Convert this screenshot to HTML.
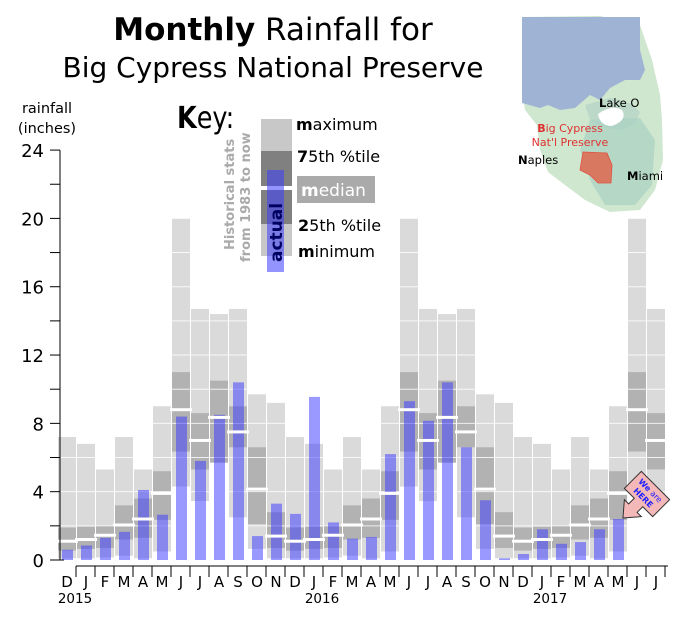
<!DOCTYPE html>
<html><head><meta charset="utf-8">
<style>
html,body{margin:0;padding:0;background:#fff;}
body{width:700px;height:626px;overflow:hidden;font-family:"DejaVu Sans","Liberation Sans",sans-serif;}
svg text{font-family:"DejaVu Sans","Liberation Sans",sans-serif;}
</style></head>
<body>
<svg id="chart" width="700" height="626" xmlns="http://www.w3.org/2000/svg">
  <g>
    <text x="273" y="40" font-size="31" text-anchor="middle" fill="#000"><tspan font-weight="bold">Monthly</tspan> Rainfall for</text>
    <text x="273" y="77" font-size="28" text-anchor="middle" fill="#000">Big Cypress National Preserve</text>
  </g>
  <g>
    <text x="47" y="113" font-size="14.5" text-anchor="middle">rainfall</text>
    <text x="47" y="133" font-size="14.5" text-anchor="middle">(inches)</text>
  </g>
  <g id="plot"></g>
  <g id="axes"></g>

  <!-- Key -->
  <g>
    <text x="177" y="128" font-size="30" font-weight="bold" transform="scale(0.85,1)" transform-origin="177 128">K<tspan font-weight="normal">ey:</tspan></text>
    <rect x="261" y="119" width="31" height="32" fill="#c8c8c8"/>
    <rect x="261" y="151" width="31" height="35" fill="#808080"/>
    <rect x="261" y="186" width="31" height="4" fill="#fff"/>
    <rect x="261" y="190" width="31" height="34" fill="#808080"/>
    <rect x="261" y="224" width="31" height="32" fill="#c8c8c8"/>
    <rect x="267" y="170" width="17" height="102" fill="rgb(60,60,255)" fill-opacity="0.55"/>
    <text transform="translate(282,262) rotate(-90)" font-size="17" font-weight="bold" fill="#000060">actual</text>
    <text transform="translate(234,250) rotate(-90)" font-size="13" font-weight="bold" fill="#aaa">Historical stats</text>
    <text transform="translate(250,262) rotate(-90)" font-size="13" font-weight="bold" fill="#aaa">from 1983 to now</text>
    <text x="296" y="130" font-size="16"><tspan font-weight="bold">m</tspan>aximum</text>
    <text x="297" y="162" font-size="16"><tspan font-weight="bold">7</tspan>5th %tile</text>
    <rect x="297" y="176" width="78" height="27" fill="#aaa"/>
    <text x="301" y="196" font-size="17" fill="#fff"><tspan font-weight="bold">m</tspan>edian</text>
    <text x="298" y="231" font-size="16"><tspan font-weight="bold">2</tspan>5th %tile</text>
    <text x="298" y="257" font-size="16"><tspan font-weight="bold">m</tspan>inimum</text>
  </g>

  <!-- Map -->
  <g>
    <path d="M522,17 L600,16 L640,25 L652,60 L660,95 L662,120 L663,160 L655,190 L640,210 L610,212 L585,200 L565,185 L548,172 L540,150 L537,125 L525,110 L522,90 Z" fill="#cfe6cf"/>
    <path d="M522,17 L640,17 L640,50 L645,70 L640,80 L625,80 L610,88 L600,100 L590,95 L575,108 L560,110 L548,105 L540,108 L522,103 Z" fill="#9fb4d4"/>
    <path d="M585,105 L610,98 L630,103 L640,112 L635,124 L620,130 L600,127 L590,120 Z" fill="#bcd8c8"/>
    <path d="M590,120 L640,118 L655,140 L652,185 L635,205 L605,205 L590,180 L580,150 Z" fill="#a9d2c2" fill-opacity="0.7"/>
    <path d="M598,114 Q612,104 622,110 Q628,120 612,126 Q600,126 598,114 Z" fill="#fff"/>
    <path d="M583,152 L607,153 L612,165 L611,183 L598,183 L590,175 L580,170 Z" fill="#d97860" stroke="#e05040" stroke-width="0.8"/>
    <text x="599" y="107" font-size="11.5"><tspan font-weight="bold">L</tspan>ake O</text>
    <text x="570" y="132" font-size="11" fill="#e03030" text-anchor="middle"><tspan font-weight="bold">B</tspan>ig Cypress</text>
    <text x="570" y="146" font-size="11" fill="#e03030" text-anchor="middle">Nat'l Preserve</text>
    <text x="518" y="164" font-size="11.5"><tspan font-weight="bold">N</tspan>aples</text>
    <text x="627" y="180" font-size="11.5"><tspan font-weight="bold">M</tspan>iami</text>
  </g>

  <!-- We are HERE sign -->
  <g transform="translate(647,494) rotate(45)">
    <polygon points="-20,-12 20,-12 20,12 6,12 6,20 12,20 0,34 -12,20 -6,20 -6,12 -20,12" fill="#f5b8b8" stroke="#333" stroke-width="1"/>
    <text x="0" y="-2" font-size="8" fill="#2020ff" text-anchor="middle" font-weight="bold">We <tspan font-weight="normal">are</tspan></text>
    <text x="0" y="8" font-size="8" fill="#2020ff" text-anchor="middle" font-weight="bold">HERE</text>
  </g>
</svg>
<script>
// Historical stats by calendar month (Jan..Dec), inches
const statMonths = ['Jan','Feb','Mar','Apr','May','Jun','Jul','Aug','Sep','Oct','Nov','Dec'];
const statMax = [6.8, 5.3, 7.2, 5.3, 9.0, 20.0, 14.7, 14.4, 14.7, 9.7, 9.2, 7.2];
const statP75 = [1.95, 2.0, 3.2, 3.6, 5.2, 11.0, 8.6, 10.5, 9.0, 6.6, 2.8, 1.9];
const statMedian = [1.2, 1.45, 2.05, 2.4, 3.9, 8.8, 7.0, 8.35, 7.5, 4.15, 1.4, 1.1];
const statP25 = [0.65, 0.7, 1.2, 1.3, 2.35, 6.35, 5.3, 5.7, 6.6, 2.1, 0.7, 0.55];
const statMin = [0.1, 0.15, 0.25, 0.1, 0.5, 4.3, 3.45, 5.7, 2.5, 0.65, 0.1, 0.1];
// Timeline: Dec 2015 .. Jul 2017
const monthLabels = ['D','J','F','M','A','M','J','J','A','S','O','N','D','J','F','M','A','M','J','J','A','S','O','N','D','J','F','M','A','M','J','J'];
const monthIndex = [11,0,1,2,3,4,5,6,7,8,9,10,11,0,1,2,3,4,5,6,7,8,9,10,11,0,1,2,3,4,5,6];
const actual = [0.6, 0.85, 1.3, 1.65, 4.1, 2.65, 8.4, 5.8, 8.5, 10.4, 1.4, 3.3, 2.7, 9.55, 2.2, 1.25, 1.35, 6.2, 9.3, 8.15, 10.4, 6.6, 3.5, 0.1, 0.35, 1.8, 0.95, 1.05, 1.8, 2.4];
const yTicks = [0,4,8,12,16,20,24];
const yearLabels = ['2015','2016','2017'];
const yearAt = [0,13,25];

const NS='http://www.w3.org/2000/svg';
const y0=560, pxPerIn=17.08, colW=19, x0=58;
function yS(v){return y0 - v*pxPerIn;}
function xS(i){return x0 + i*colW;}
function mk(tag, attrs, parent){const e=document.createElementNS(NS,tag);for(const k in attrs)e.setAttribute(k,attrs[k]);parent.appendChild(e);return e;}
const plot=document.getElementById('plot'), axes=document.getElementById('axes');

monthLabels.forEach((m,i)=>{
  const s=monthIndex[i], x=xS(i);
  const r1=mk('rect',{x:x,y:yS(statMax[s]),width:colW-1,height:yS(statMin[s])-yS(statMax[s]),fill:'#dadada'},plot);
  
  
  const r2=mk('rect',{x:x,y:yS(statP75[s]),width:colW-1,height:yS(statP25[s])-yS(statP75[s]),fill:'#b2b2b2'},plot);
  
  
});
for(let v=2; v<=24; v+=2){
  const g=mk('line',{x1:x0,x2:xS(monthLabels.length),y1:yS(v),y2:yS(v),stroke:'#fff','stroke-width':1,'stroke-opacity':0.8},plot);
  
  
}
actual.forEach((v,i)=>{
  const b=mk('rect',{x:xS(i)+4,y:yS(v),width:11,height:yS(0)-yS(v),fill:'rgb(60,60,255)','fill-opacity':0.52},plot);
  
  
});
monthLabels.forEach((m,i)=>{
  const s=monthIndex[i];
  const l=mk('rect',{x:xS(i)-2,y:yS(statMedian[s])-1.5,width:colW+3,height:3,fill:'#fff'},plot);
  
  
});
// y-axis
const ya=mk('path',{d:`M60,${yS(24)} L60,${y0} L64,${y0}`,fill:'none',stroke:'#000','stroke-width':1},axes);


for(let v=0; v<=24; v+=2){
  mk('line',{x1:50,x2:60,y1:yS(v),y2:yS(v),stroke:'#000','stroke-width':1},axes);
}
yTicks.forEach(v=>{
  const t=mk('text',{x:44,y:yS(v)+7,'font-size':18,'text-anchor':'end'},axes);
  t.textContent=v;
  
  
});
// x-axis
const xa=mk('line',{x1:76,x2:668,y1:566,y2:566,stroke:'#000','stroke-width':1},axes);


monthLabels.forEach((m,i)=>{
  if(i<monthLabels.length) mk('line',{x1:xS(i)+colW-1,x2:xS(i)+colW-1,y1:566,y2:577,stroke:'#000','stroke-width':1},axes);
  const t=mk('text',{x:xS(i)+9,y:587,'font-size':15,'text-anchor':'middle'},axes);
  t.textContent=m;
  
  
});
yearLabels.forEach((yl,k)=>{
  const t=mk('text',{x:xS(yearAt[k])+17,y:603,'font-size':13.5,'text-anchor':'middle'},axes);
  t.textContent=yl;
  
  
});
</script>
</body></html>
